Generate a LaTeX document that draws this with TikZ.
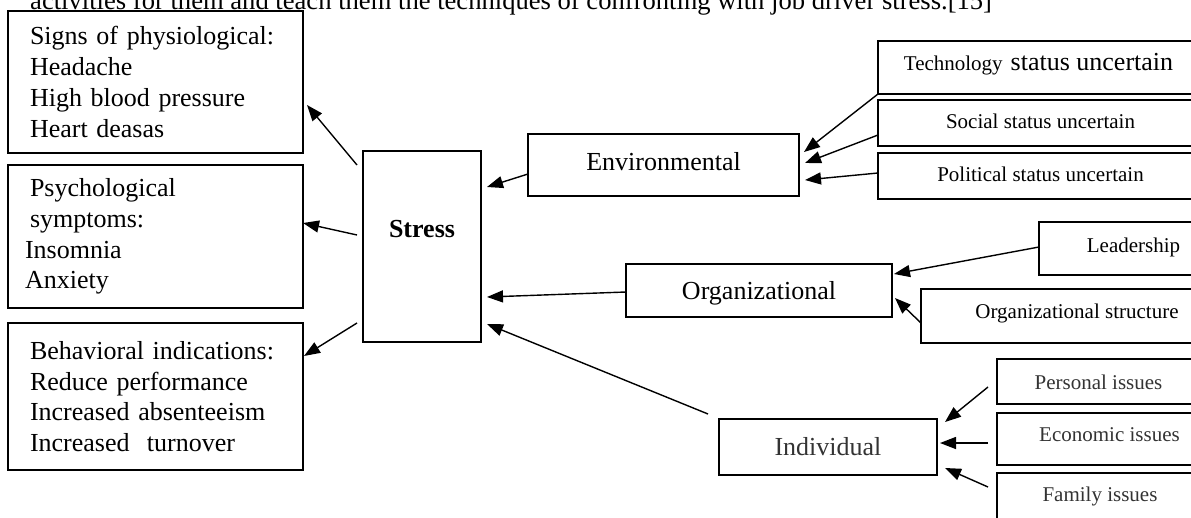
\documentclass[tikz,border=0pt]{standalone}
\usepackage{fontspec}
\setmainfont{Liberation Serif}
\usetikzlibrary{arrows.meta}
\begin{document}
\begin{tikzpicture}[x=1pt,y=-1pt,
  box/.style={draw, line width=1.3pt, rectangle, inner sep=0pt, outer sep=0pt, anchor=north west},
  big/.style={font=\fontsize{26}{30.7}\selectfont},
  small/.style={font=\fontsize{21}{25}\selectfont},
  grey/.style={text=black!80},
  arr/.style={line width=1.4pt, -{Triangle[length=16pt,width=12pt]}}]
\useasboundingbox (0,0) rectangle (1191,517);
% top text (cropped)
\node[font=\fontsize{26.6}{30}\selectfont, anchor=base west, inner sep=0pt] (toptext) at (30,9.5)
  {activities for them and teach them the techniques of confronting with job driver stress.[15]};
% left boxes
\node[box, big, minimum width=295pt, minimum height=142pt, text width=251pt, align=left] (phys) at (8,11)
  {Signs of physiological:\\Headache\\High blood pressure\\Heart deasas};
\node[box, big, minimum width=295pt, minimum height=143pt, text width=261pt, align=left] (psych) at (8,165)
  {\hspace*{5pt}Psychological\\\hspace*{5pt}symptoms:\\Insomnia\\Anxiety};
\node[box, big, minimum width=295pt, minimum height=147pt, text width=251pt, align=left] (behav) at (8,323)
  {Behavioral indications:\\Reduce performance\\Increased absenteeism\\Increased\ \ turnover};
% stress
\node[box, minimum width=118pt, minimum height=191pt, font=\bfseries\fontsize{26}{30}\selectfont,
  text height=18pt, text depth=37pt] (stress) at (363,151) {Stress};
% middle
\node[box, big, minimum width=271pt, minimum height=62pt, text height=18pt, text depth=8pt] (env) at (528,134) {Environmental};
\node[box, big, minimum width=266pt, minimum height=53pt, text height=18pt, text depth=1pt] (org) at (626,264) {Organizational};
\node[box, big, grey, minimum width=218pt, minimum height=56pt, text height=18pt, text depth=2pt] (indiv) at (719,419) {Individual};
% right boxes
\node[box, minimum width=321pt, minimum height=53pt, text height=18pt, text depth=13pt] (tech) at (878,41)
  {{\fontsize{21}{25}\selectfont Technology}\hspace{8pt}{\fontsize{26}{30}\selectfont status uncertain}};
\node[box, small, minimum width=325pt, minimum height=46pt, text height=15pt, text depth=4.4pt] (social) at (878,100) {Social status uncertain};
\node[box, small, minimum width=325pt, minimum height=46pt, text height=15pt, text depth=3.6pt] (polit) at (878,153) {Political status uncertain};
\node[box, small, minimum width=189pt, minimum height=53pt, text height=15pt, text depth=7.4pt] (leader) at (1039,222) {Leadership};
\node[box, small, minimum width=312pt, minimum height=54pt, text height=15pt, text depth=10.4pt] (ostruct) at (921,289) {Organizational structure};
\node[box, small, grey, minimum width=203pt, minimum height=45pt, text height=18pt, text depth=2.4pt] (pers) at (997,359) {Personal issues};
\node[box, small, grey, minimum width=225pt, minimum height=52pt, text height=15pt, text depth=11pt] (econ) at (997,413) {Economic issues};
\node[box, small, grey, minimum width=206pt, minimum height=57pt, text height=15pt, text depth=15pt] (fam) at (997,473) {Family issues};
% arrows from stress to symptoms
\draw[arr] ([shift={(-6,14)}]stress.north west) -- ([shift={(4,23)}]phys.east);
\draw[arr] ([shift={(-6,-11.5)}]stress.west) -- ([shift={(0,-13.5)}]psych.east);
\draw[arr] ([shift={(-6,-19)}]stress.south west) -- ([shift={(1,33)}]behav.north east);
% arrows into stress
\draw[arr] ([shift={(0,9)}]env.west) -- ([shift={(6,36)}]stress.north east);
\draw[arr] ([shift={(0,1.5)}]org.west) -- ([shift={(6,50.5)}]stress.east);
\draw[arr] ([shift={(-11,-5)}]indiv.north west) -- ([shift={(6,-18)}]stress.south east);
% arrows into environmental
\draw[arr] (tech.south west) -- ([shift={(5,-13)}]env.east);
\draw[arr] ([shift={(0,12)}]social.west) -- ([shift={(6,-2)}]env.east);
\draw[arr] ([shift={(0,-3)}]polit.west) -- ([shift={(6,15)}]env.east);
% arrows into organizational
\draw[arr] ([shift={(0,-1.5)}]leader.west) -- ([shift={(2,-16.5)}]org.east);
\draw[arr] ([shift={(0,7)}]ostruct.west) -- ([shift={(3,7.5)}]org.east);
% arrows into individual
\draw[arr] ([shift={(-9,5.5)}]pers.west) -- ([shift={(8,-25)}]indiv.east);
\draw[arr] ([shift={(-9,4)}]econ.west) -- ([shift={(3,-4)}]indiv.east);
\draw[arr] ([shift={(-9,14)}]fam.north west) -- ([shift={(8,21)}]indiv.east);
\end{tikzpicture}
\end{document}
